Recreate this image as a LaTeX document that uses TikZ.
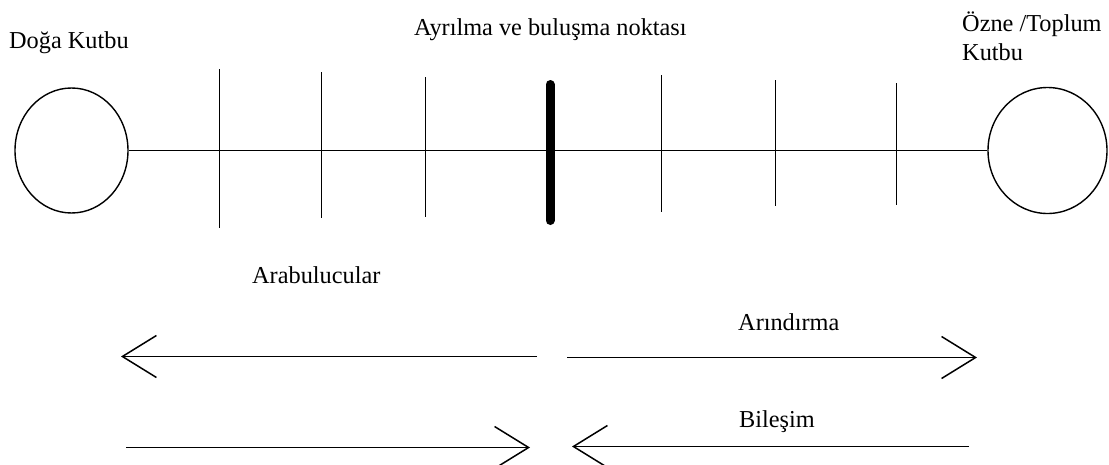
\documentclass[tikz,border=0pt]{standalone}
\usepackage{fontspec}
\setmainfont{Liberation Serif}
\usetikzlibrary{shapes.geometric,arrows.meta}
\begin{document}
\begin{tikzpicture}[x=1pt,y=-1pt,
  pole/.style={draw, ellipse, line width=1.4pt, inner sep=0pt},
  tickline/.style={line width=1.6pt},
  midbar/.style={line width=9pt, line cap=round},
  lab/.style={anchor=base west, inner sep=0pt, font=\fontsize{24.3}{29}\selectfont},
  flow/.style={line width=1.5pt, -{Straight Barb[length=34pt,width=42pt]}}]
\useasboundingbox (0,0) rectangle (1109,464);
\fill[white] (0,0) rectangle (1109,464);
% poles
\node[pole, minimum width=113pt, minimum height=125pt] (L) at (71.5,150.5) {};
\node[pole, minimum width=119pt, minimum height=126pt] (R) at (1047.5,150.5) {};
\draw[tickline] (L.east) -- (R.west);
% ticks
\draw[tickline] (219.5,69) -- (219.5,228);
\draw[tickline] (321.5,72) -- (321.5,218);
\draw[tickline] (425.5,77) -- (425.5,217);
\draw[midbar] (550,84.5) -- (550,220.5);
\draw[tickline] (661.5,75) -- (661.5,212);
\draw[tickline] (775.5,80) -- (775.5,206);
\draw[tickline] (896.5,83) -- (896.5,205);
% labels
\node[lab] (doga) at (9,48) {Doğa Kutbu};
\node[lab] (ayr) at (414,35) {Ayrılma ve buluşma noktası};
\node[lab] (ozne1) at (962,31) {Özne /Toplum};
\node[lab] (ozne2) at (962,60) {Kutbu};
\node[lab] (arab) at (252,283) {Arabulucular};
\node[lab] (arin) at (738,330) {Arındırma};
\node[lab] (biles) at (739,427) {Bileşim};
% arrows
\coordinate (a1s) at (537,356.5);
\coordinate (a1e) at (121,356.5);
\coordinate (a2s) at (567,357.5);
\coordinate (a2e) at (977,357.5);
\coordinate (a3s) at (126,447.5);
\coordinate (a3e) at (530,447.5);
\coordinate (a4s) at (969,446.5);
\coordinate (a4e) at (572,446.5);
\draw[flow] (a1s) -- (a1e);
\draw[flow] (a2s) -- (a2e);
\draw[flow] (a3s) -- (a3e);
\draw[flow] (a4s) -- (a4e);
\end{tikzpicture}
\end{document}
